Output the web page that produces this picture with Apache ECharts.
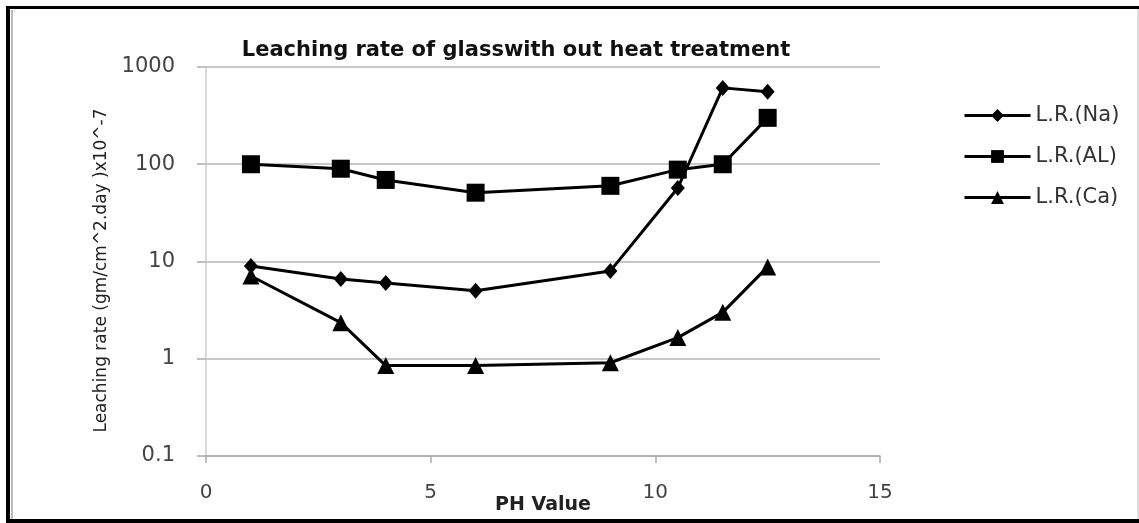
<!DOCTYPE html>
<html>
<head>
<meta charset="utf-8">
<script src="https://cdn.jsdelivr.net/npm/echarts@6/dist/echarts.min.js"></script>
<style>
 html, body { margin: 0; padding: 0; background: #fff; }
 #chart { width: 1139px; height: 523px; }
</style>
</head>
<body>
<div id="chart"></div>
<script>
// pH values and leaching rates (x10^-7 gm/cm^2.day)
const phValues = [1, 3, 4, 6, 9, 10.5, 11.5, 12.5]
const naRates = [9, 6.6, 6, 5, 8, 57, 610, 555]
const alRates = [100, 90, 69, 51, 60, 88, 100, 300]
const caRates = [7.1, 2.35, 0.85, 0.85, 0.91, 1.65, 3, 8.8]
const seriesNames = ['L.R.(Na)', 'L.R.(AL)', 'L.R.(Ca)']

const pairs = (ys) => phValues.map((x, i) => [x, ys[i]])
const font = 'DejaVu Sans'

const mkLine = (name, ys, symbol, size) => ({
 name: name,
 type: 'line',
 data: pairs(ys),
 symbol: symbol,
 symbolSize: size,
 showAllSymbol: true,
 lineStyle: { color: '#000', width: 3 },
 itemStyle: { color: '#000' }
})

const chart = echarts.init(document.getElementById('chart'))
chart.setOption({
 animation: false,
 backgroundColor: '#fff',
 textStyle: { fontFamily: font },
 title: {
  text: 'Leaching rate of glasswith out heat treatment',
  left: 511,
  textAlign: 'center',
  top: 35,
  textStyle: { fontFamily: font, fontSize: 21, fontWeight: 'bold', color: '#111' }
 },
 legend: {
  orient: 'vertical',
  left: 958,
  top: 100,
  itemWidth: 66,
  itemHeight: 16,
  itemGap: 20,
  data: seriesNames,
  lineStyle: { width: 3 },
  textStyle: { fontFamily: font, fontSize: 21, color: '#333' }
 },
 grid: { left: 206, right: 259, top: 67, bottom: 67, outerBoundsMode: 'none', containLabel: false },
 xAxis: {
  type: 'value',
  min: 0,
  max: 15,
  interval: 5,
  name: 'PH Value',
  nameLocation: 'middle',
  nameGap: 40,
  nameMoveOverlap: false,
  nameTextStyle: { fontFamily: font, fontSize: 19, fontWeight: 'bold', color: '#222' },
  axisLine: { lineStyle: { color: '#aaa', width: 1.5 } },
  axisTick: { show: true, length: 7, lineStyle: { color: '#aaa', width: 1.5 } },
  axisLabel: { fontSize: 20, color: '#444', margin: 27 },
  splitLine: { show: false }
 },
 yAxis: {
  type: 'log',
  logBase: 10,
  min: 0.1,
  max: 1000,
  name: 'Leaching rate (gm/cm^2.day )x10^-7',
  nameLocation: 'middle',
  nameGap: 96,
  nameRotate: 90,
  nameMoveOverlap: false,
  nameTextStyle: { fontFamily: font, fontSize: 17, color: '#222', padding: [0, 18, 0, 0] },
  axisLine: { show: true, lineStyle: { color: '#ccc', width: 1.5 } },
  axisTick: { show: true, length: 9, lineStyle: { color: '#aaa', width: 1.5 } },
  axisLabel: {
   fontSize: 21,
   color: '#444',
   margin: 31,
   formatter: (v) => String(parseFloat(Number(v).toPrecision(3)))
  },
  splitLine: { show: true, lineStyle: { color: '#b5b5b5', width: 1.5 } }
 },
 series: [
  mkLine(seriesNames[0], naRates, 'diamond', [14, 16]),
  mkLine(seriesNames[1], alRates, 'rect', 18),
  mkLine(seriesNames[2], caRates, 'triangle', 17)
 ],
 graphic: [
  { type: 'rect', shape: { x: 6, y: 6, width: 1133, height: 3 }, style: { fill: '#000' } },
  { type: 'rect', shape: { x: 6, y: 6, width: 4, height: 517 }, style: { fill: '#000' } },
  { type: 'rect', shape: { x: 6, y: 519, width: 1133, height: 4 }, style: { fill: '#000' } },
  { type: 'rect', shape: { x: 11, y: 10, width: 2, height: 509 }, style: { fill: '#bbb' } },
  { type: 'rect', shape: { x: 1137, y: 9, width: 2, height: 510 }, style: { fill: '#ddd' } }
 ]
})
</script>
</body>
</html>
